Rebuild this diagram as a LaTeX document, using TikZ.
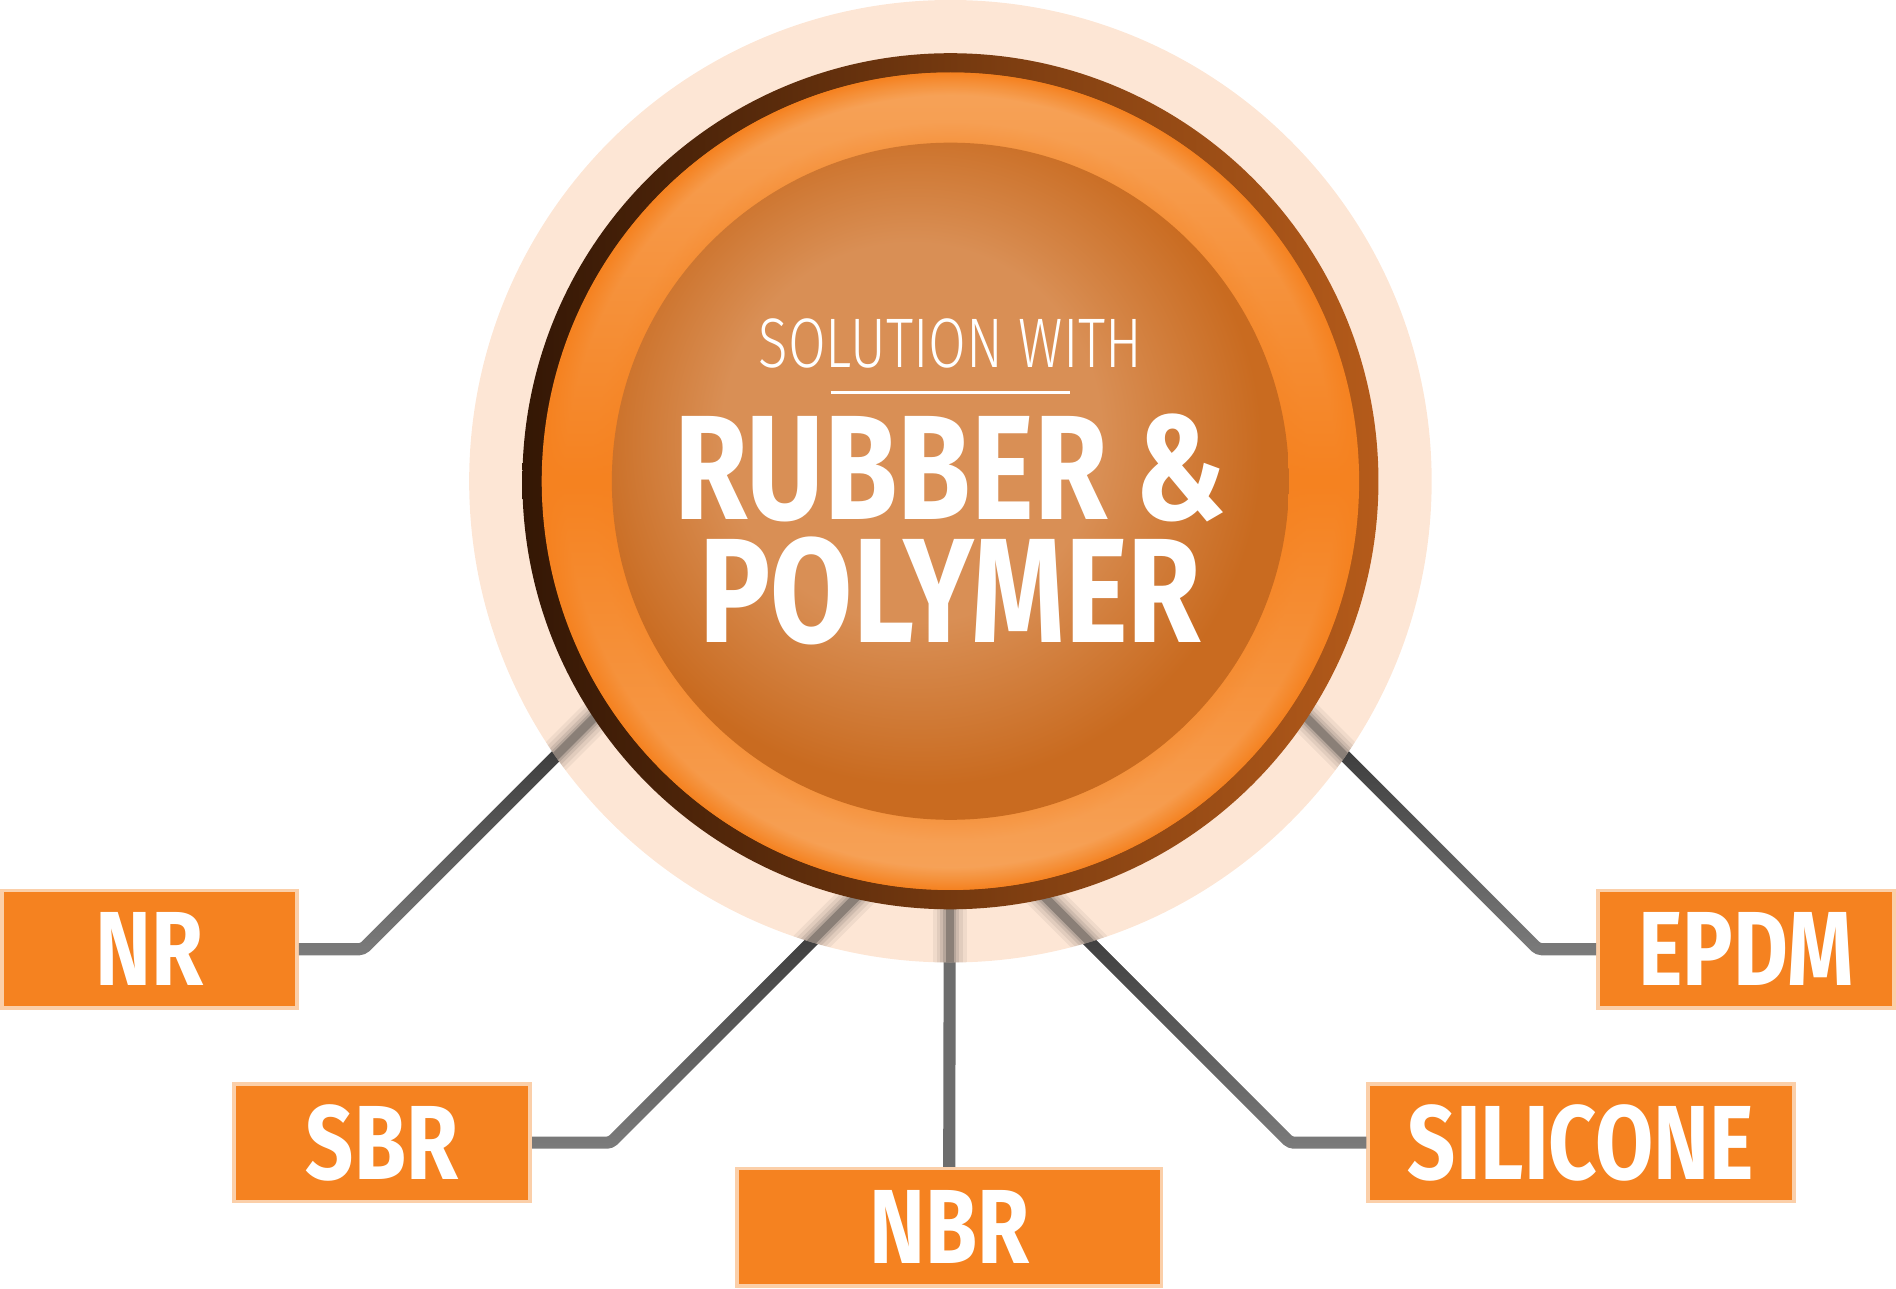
\documentclass[tikz,border=0pt]{standalone}
\usepackage{fontspec}
\usetikzlibrary{fadings}

\newfontfamily\labelfont[FakeStretch=0.8]{Fira Sans}
\newfontfamily\thinfont[FakeStretch=0.78]{Fira Sans Light}

\definecolor{orng}{HTML}{F58220}
\definecolor{orngpale}{HTML}{FBCFA9}
\definecolor{halo}{HTML}{FDE6D5}
\definecolor{ringdark}{HTML}{341705}
\definecolor{ringbrown}{HTML}{B55B1A}
\definecolor{ringlite}{HTML}{F7A45B}
\definecolor{innerlite}{HTML}{D98F55}
\definecolor{innerdark}{HTML}{C96B20}
\definecolor{linkgray}{HTML}{7C7C7C}
\definecolor{linkdark}{HTML}{333333}
\definecolor{blurgray}{HTML}{4A4644}

\pgfdeclareradialshading{ringband}{\pgfpointorigin}{color(0bp)=(orng); color(20.7bp)=(ringlite!70!orng); color(22bp)=(ringlite); color(23.6bp)=(ringlite); color(25bp)=(orng); color(50bp)=(orng)}
\pgfdeclareradialshading{innerglow}{\pgfpoint{-4bp}{5bp}}{color(0bp)=(innerlite); color(14bp)=(innerlite); color(25bp)=(innerdark); color(50bp)=(innerdark)}
\tikzfading[name=fadeup, top color=transparent!0, bottom color=transparent!100]
\tikzfading[name=fadesides, top color=transparent!0, bottom color=transparent!0, middle color=transparent!100]

\begin{document}
\begin{tikzpicture}[x=0.01cm, y=0.01cm,
		box/.style={fill=orng, draw=orngpale, line width=0.03cm, minimum height=0.97cm, inner sep=0pt, text=white, font=\labelfont\bfseries\fontsize{24.8}{26}\selectfont},
		link/.style={draw=linkgray, line width=0.1cm, rounded corners=0.03cm},
		linkfade/.style={link, draw=linkdark, path fading=fadeup},
		blur/.style={draw=blurgray, line width=0.07cm, opacity=0.4, shorten <=-0.15cm, shorten >=-0.15cm,
			preaction={draw=blurgray, line width=0.28cm, opacity=0.07, shorten <=-0.15cm, shorten >=-0.15cm},
			preaction={draw=blurgray, line width=0.22cm, opacity=0.09, shorten <=-0.15cm, shorten >=-0.15cm},
			preaction={draw=blurgray, line width=0.16cm, opacity=0.13, shorten <=-0.15cm, shorten >=-0.15cm},
			preaction={draw=blurgray, line width=0.11cm, opacity=0.18, shorten <=-0.15cm, shorten >=-0.15cm}},
		heading/.style={anchor=base, inner sep=0pt, text=white},
		bigline/.style={heading, text height=0.85cm, text depth=0pt, font=\labelfont\bfseries\fontsize{35}{36}\selectfont}]
		\useasboundingbox (0, 0) rectangle (1568, 1066);

		\node[box, minimum width=2.44cm] (nr) at (123.5, 281) {NR};
		\node[box, minimum width=2.45cm] (sbr) at (316, 121) {SBR};
		\node[box, minimum width=3.51cm] (nbr) at (785, 51) {NBR};
		\node[box, minimum width=3.52cm] (silicone) at (1307.5, 121) {SILICONE};
		\node[box, minimum width=2.45cm] (epdm) at (1444, 281) {EPDM};

		\coordinate (c) at (786, 668);
		\coordinate (nrbend) at (300, 281);
		\coordinate (nrout) at (459.5, 440.5);
		\coordinate (nrin) at (491, 472);
		\coordinate (sbrbend) at (505, 121);
		\coordinate (sbrout) at (671, 287);
		\coordinate (sbrin) at (707, 323);
		\coordinate (nbrout) at (785.5, 270);
		\coordinate (nbrin) at (785.5, 314);
		\coordinate (silbend) at (1067, 121);
		\coordinate (silout) at (901, 287);
		\coordinate (silin) at (865, 323);
		\coordinate (epdmbend) at (1272, 281);
		\coordinate (epdmout) at (1112.5, 440.5);
		\coordinate (epdmin) at (1081, 472);

		% connectors
		\draw[link] (nr.east) -- (nrbend) -- (nrin);
		\draw[linkfade] (nr.east) -- (nrbend) -- (nrin);
		\draw[link] (sbr.east) -- (sbrbend) -- (sbrin);
		\draw[linkfade] (sbr.east) -- (sbrbend) -- (sbrin);
		\draw[link, draw=linkgray!80!linkdark] (nbr.north) -- (nbrin);
		\draw[link] (silicone.west) -- (silbend) -- (silin);
		\draw[linkfade] (silicone.west) -- (silbend) -- (silin);
		\draw[link] (epdm.west) -- (epdmbend) -- (epdmin);
		\draw[linkfade] (epdm.west) -- (epdmbend) -- (epdmin);

		% halo and the blurred ends under it
		\fill[halo] (c) circle (398);
		\begin{scope}
			\clip (c) circle (398);
			\draw[blur] (nrout) -- (nrin);
			\draw[blur] (sbrout) -- (sbrin);
			\draw[blur] (nbrout) -- (nbrin);
			\draw[blur] (silout) -- (silin);
			\draw[blur] (epdmout) -- (epdmin);
		\end{scope}

		% rings
		\shade[left color=ringdark, right color=ringbrown] (c) circle (354);
		\fill[orng] (c) circle (338);
		\shade[shading=ringband, path fading=fadesides] (c) circle (338);
		\shade[shading=innerglow] (c) circle (280);

		\node[heading, font=\thinfont\fontsize{16.5}{18}\selectfont] (solution) at (786, 762) {SOLUTION WITH};
		\draw[white, line width=0.025cm] (687, 741) -- (885, 741);
		\node[bigline] (rubber) at (786, 636) {RUBBER \&};
		\node[bigline] (polymer) at (786, 535) {POLYMER};
	\end{tikzpicture}
\end{document}
